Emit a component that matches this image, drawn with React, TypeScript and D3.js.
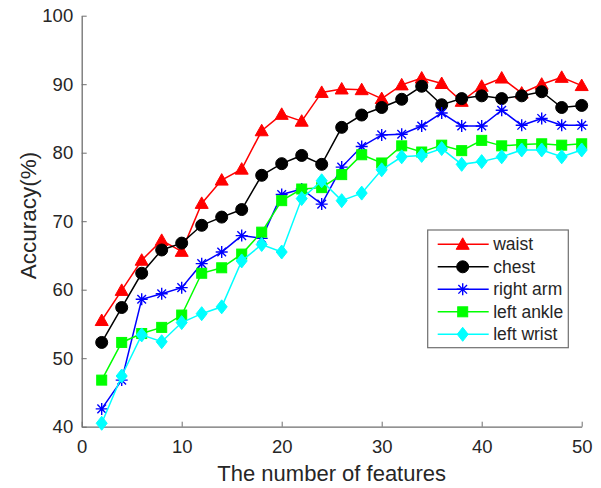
import React, { useEffect, useRef } from "react";
import * as d3 from "d3";

// number of features on the x axis
const features = [2, 4, 6, 8, 10, 12, 14, 16, 18, 20, 22, 24, 26, 28, 30, 32, 34, 36, 38, 40, 42, 44, 46, 48, 50];

const waist = [55.5, 59.9, 64.3, 67.2, 65.6, 72.6, 76.0, 77.6, 83.2, 85.6, 84.6, 88.8, 89.3, 89.2, 87.9, 89.9, 90.9, 90.1, 87.5, 89.7, 90.9, 88.7, 90.0, 91.0, 89.8];
const chest = [52.3, 57.4, 62.4, 65.8, 66.8, 69.4, 70.6, 71.7, 76.7, 78.4, 79.6, 78.3, 83.7, 85.5, 86.6, 87.8, 89.7, 87.0, 87.9, 88.3, 87.9, 88.3, 88.9, 86.6, 86.9];
const rightArm = [42.6, 46.8, 58.6, 59.4, 60.3, 63.8, 65.5, 67.9, 67.5, 73.9, 74.7, 72.5, 77.9, 80.9, 82.6, 82.7, 83.9, 85.8, 83.9, 83.9, 86.2, 84.0, 85.0, 84.0, 84.0];
const leftAnkle = [46.8, 52.3, 53.6, 54.5, 56.3, 62.4, 63.2, 65.2, 68.4, 73.0, 74.7, 74.9, 76.8, 79.7, 78.5, 81.0, 80.1, 81.1, 80.3, 81.8, 81.0, 81.2, 81.3, 81.1, 81.3];
const leftWrist = [40.5, 47.4, 53.4, 52.4, 55.2, 56.5, 57.5, 64.2, 66.6, 65.5, 73.3, 75.9, 73.0, 74.1, 77.5, 79.4, 79.6, 80.6, 78.3, 78.7, 79.4, 80.4, 80.4, 79.4, 80.4];

const seriesNames = ["waist", "chest", "right arm", "left ankle", "left wrist"];
const seriesColors = ["#ff0000", "#000000", "#0000ff", "#00ff00", "#00ffff"];
const seriesMarkers = ["triangle", "circle", "asterisk", "square", "diamond"];
const seriesValues = [waist, chest, rightArm, leftAnkle, leftWrist];

const xTicks = [0, 10, 20, 30, 40, 50];
const yTicks = [40, 50, 60, 70, 80, 90, 100];

const W = 601;
const H = 488;
const FONT = "Liberation Sans, Arial, sans-serif";

function drawMarker(g, kind, x, y, color) {
  if (kind === "triangle") {
    g.append("path")
      .attr("d", `M${x},${y - 6.5}L${x + 6.5},${y + 5}L${x - 6.5},${y + 5}Z`)
      .attr("fill", color).attr("stroke", color).attr("stroke-width", 1);
  } else if (kind === "circle") {
    g.append("circle").attr("cx", x).attr("cy", y).attr("r", 6)
      .attr("fill", color).attr("stroke", color);
  } else if (kind === "asterisk") {
    const r = 6;
    const d = r * 0.72;
    g.append("path")
      .attr("d", `M${x - r},${y}L${x + r},${y}M${x},${y - r}L${x},${y + r}M${x - d},${y - d}L${x + d},${y + d}M${x - d},${y + d}L${x + d},${y - d}`)
      .attr("fill", "none").attr("stroke", color).attr("stroke-width", 1.4);
  } else if (kind === "square") {
    g.append("rect").attr("x", x - 5).attr("y", y - 5).attr("width", 10).attr("height", 10)
      .attr("fill", color).attr("stroke", color);
  } else if (kind === "diamond") {
    g.append("path")
      .attr("d", `M${x},${y - 7}L${x + 5.5},${y}L${x},${y + 7}L${x - 5.5},${y}Z`)
      .attr("fill", color).attr("stroke", color);
  }
}

const App = () => {
  const svgRef = useRef(null);

  useEffect(() => {
    const svg = d3.select(svgRef.current);
    svg.selectAll("*").remove();

    const x = d3.scaleLinear().domain([0, 50]).range([81.7, 581.7]);
    const y = d3.scaleLinear().domain([40, 100]).range([426.7, 15.7]);

    const axisColor = "#6e6e6e";
    const textColor = "#262626";

    // axes (left + bottom only, ticks pointing inward)
    const xAxis = svg.append("g").attr("transform", `translate(0,${y(40)})`)
      .call(d3.axisBottom(x).tickValues(xTicks).tickSizeInner(-5).tickSizeOuter(0).tickPadding(13));
    xAxis.select(".domain").attr("stroke", axisColor).attr("stroke-width", 1.3);
    xAxis.selectAll(".tick line").attr("stroke", axisColor);
    xAxis.selectAll("text").attr("fill", textColor).style("font-size", "18.5px").style("font-family", FONT);

    const yAxis = svg.append("g").attr("transform", `translate(${x(0)},0)`)
      .call(d3.axisLeft(y).tickValues(yTicks).tickSizeInner(-5).tickSizeOuter(0).tickPadding(8.5));
    yAxis.select(".domain").attr("stroke", axisColor).attr("stroke-width", 1.3);
    yAxis.selectAll(".tick line").attr("stroke", axisColor);
    yAxis.selectAll("text").attr("fill", textColor).style("font-size", "18.5px").style("font-family", FONT);

    // axis titles
    svg.append("text")
      .attr("x", x(25)).attr("y", 481)
      .attr("text-anchor", "middle")
      .attr("fill", textColor)
      .style("font-size", "22px").style("font-family", FONT)
      .text("The number of features");

    svg.append("text")
      .attr("transform", `translate(36,215.5) rotate(-90)`)
      .attr("text-anchor", "middle")
      .attr("fill", textColor)
      .style("font-size", "22.5px").style("font-family", FONT)
      .text("Accuracy(%)");

    // series
    const line = d3.line().x((d, i) => x(features[i])).y(d => y(d));
    seriesValues.forEach((vals, si) => {
      const g = svg.append("g");
      g.append("path").datum(vals).attr("d", line)
        .attr("fill", "none").attr("stroke", seriesColors[si]).attr("stroke-width", 1.5);
      vals.forEach((v, i) => drawMarker(g, seriesMarkers[si], x(features[i]), y(v), seriesColors[si]));
    });

    // legend
    const lx = 427.7, ly = 230, lw = 140.6, lh = 117.7;
    const leg = svg.append("g");
    leg.append("rect").attr("x", lx).attr("y", ly).attr("width", lw).attr("height", lh)
      .attr("fill", "#ffffff").attr("stroke", "#6e6e6e").attr("stroke-width", 1.2);
    seriesNames.forEach((name, i) => {
      const cy = ly + 14.3 + i * 22.5;
      leg.append("line").attr("x1", lx + 10).attr("x2", lx + 61).attr("y1", cy).attr("y2", cy)
        .attr("stroke", seriesColors[i]).attr("stroke-width", 1.5);
      drawMarker(leg, seriesMarkers[i], lx + 35, cy, seriesColors[i]);
      leg.append("text").attr("x", lx + 65.5).attr("y", cy + 6)
        .attr("fill", textColor)
        .style("font-size", "17.5px").style("font-family", FONT)
        .text(name);
    });
  }, []);

  return (
    <svg ref={svgRef} width={W} height={H}
      style={{ position: "absolute", left: 0, top: 0, background: "#ffffff" }} />
  );
};

export default App;
